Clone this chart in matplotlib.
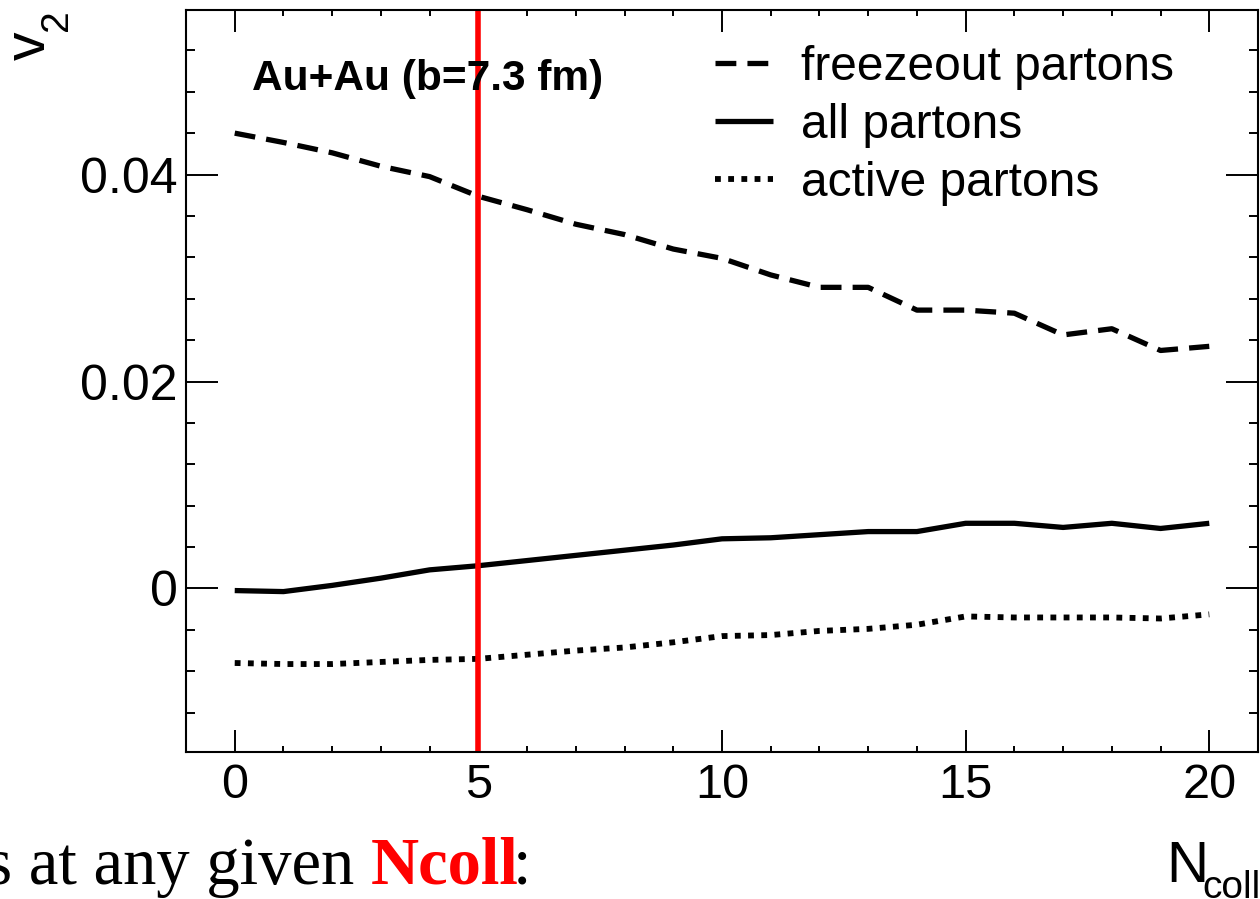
import matplotlib
matplotlib.use("Agg")
import matplotlib.pyplot as plt
from matplotlib.ticker import FixedLocator, MultipleLocator, FixedFormatter

plt.rcParams['font.family'] = ['Liberation Sans', 'DejaVu Sans']
plt.rcParams['lines.scale_dashes'] = False

# ---- data ----
n_coll = [0, 1, 2, 3, 4, 5, 6, 7, 8, 9, 10, 11, 12, 13, 14, 15, 16, 17, 18, 19, 20]
v2_freezeout = [0.0440, 0.0431, 0.0421, 0.0408, 0.0398, 0.0379, 0.0366, 0.0352, 0.0342,
                0.0328, 0.0319, 0.0303, 0.0291, 0.0291, 0.0269, 0.0269, 0.0266, 0.0245,
                0.0251, 0.0230, 0.0234]
v2_all = [-0.0002, -0.0003, 0.0003, 0.0010, 0.0018, 0.0022, 0.0027, 0.0032, 0.0037,
          0.0042, 0.0048, 0.0049, 0.0052, 0.0055, 0.0055, 0.0063, 0.0063, 0.0059,
          0.0063, 0.0058, 0.0063]
v2_active = [-0.0072, -0.0073, -0.0073, -0.0071, -0.0069, -0.0068, -0.0064, -0.0060, -0.0057,
             -0.0052, -0.0046, -0.0045, -0.0041, -0.0039, -0.0035, -0.0027, -0.0028, -0.0028,
             -0.0028, -0.0029, -0.0025]
series_labels = ["freezeout partons", "all partons", "active partons"]
marker_ncoll = 5
y_ticks = [0.0, 0.02, 0.04]
y_ticklabels = ["0", "0.02", "0.04"]
x_ticks = [0, 5, 10, 15, 20]
x_ticklabels = ["0", "5", "10", "15", "20"]

W, H = 1260, 899
fig = plt.figure(figsize=(W / 100, H / 100), dpi=100)
fig.patch.set_facecolor('white')

def fx(px):
    return px / W

def fy(py):
    return 1 - py / H

ax = fig.add_axes([fx(186), fy(752), (1258 - 186) / W, (752 - 10) / H])

lw = 3.8
ax.plot(n_coll, v2_freezeout, color='black', lw=lw, dashes=(15, 8),
        dash_capstyle='butt', label=series_labels[0])
ax.plot(n_coll, v2_all, color='black', lw=lw, solid_capstyle='butt',
        label=series_labels[1])
ax.plot(n_coll, v2_active, color='black', lw=4.2, dashes=(4.2, 5.3),
        dash_capstyle='butt', label=series_labels[2])
ax.axvline(marker_ncoll, color='#ff0000', lw=4)

ax.set_xlim(-1, 21)
ax.set_ylim(-0.0158, 0.0559)

ax.xaxis.set_major_locator(FixedLocator(x_ticks))
ax.xaxis.set_major_formatter(FixedFormatter(x_ticklabels))
ax.xaxis.set_minor_locator(MultipleLocator(1))
ax.yaxis.set_major_locator(FixedLocator(y_ticks))
ax.yaxis.set_major_formatter(FixedFormatter(y_ticklabels))
ax.yaxis.set_minor_locator(MultipleLocator(0.004))

ax.tick_params(axis='both', which='both', direction='in', top=True, right=True,
               width=1.4, color='black')
ax.tick_params(axis='x', which='major', length=15.8, labelsize=35, pad=8)
ax.tick_params(axis='x', which='minor', length=4.5)
ax.tick_params(axis='y', which='major', length=23, labelsize=36, pad=6)
ax.tick_params(axis='y', which='minor', length=6.5)
for s in ax.spines.values():
    s.set_linewidth(1.5)

leg = ax.legend(loc='upper left', bbox_to_anchor=(fx(715), fy(45)),
                bbox_transform=fig.transFigure, frameon=False, fontsize=34.5,
                handlelength=1.2, handletextpad=0.6, labelspacing=0.27,
                borderpad=0, borderaxespad=0)

fig.text(fx(252), fy(90), "Au+Au (b=7.3 fm)", fontsize=30.5, fontweight='bold',
         ha='left', va='baseline')

# axis titles (ROOT style placement, subscripts set lower as ROOT does)
fig.text(fx(45), fy(31), "v", fontsize=41, rotation=90,
         rotation_mode='anchor', ha='right', va='baseline')
fig.text(fx(67), fy(9), "2", fontsize=28, rotation=90,
         rotation_mode='anchor', ha='right', va='baseline')
fig.text(fx(1166), fy(882), "N", fontsize=42, ha='left', va='baseline')
fig.text(fx(1202), fy(898), "coll", fontsize=28, ha='left', va='baseline')

# slide text beneath
serif = ['Liberation Serif', 'DejaVu Serif']
fig.text(fx(354), fy(884), "partons at any given", fontsize=48, family=serif,
         ha='right', va='baseline', color='black')
fig.text(fx(371), fy(884), "Ncoll", fontsize=48, family=serif, fontweight='bold',
         ha='left', va='baseline', color='#ff0000')
fig.text(fx(513), fy(884), ":", fontsize=48, family=serif,
         ha='left', va='baseline', color='black')

fig.savefig("out.png", dpi=100, facecolor='white')
